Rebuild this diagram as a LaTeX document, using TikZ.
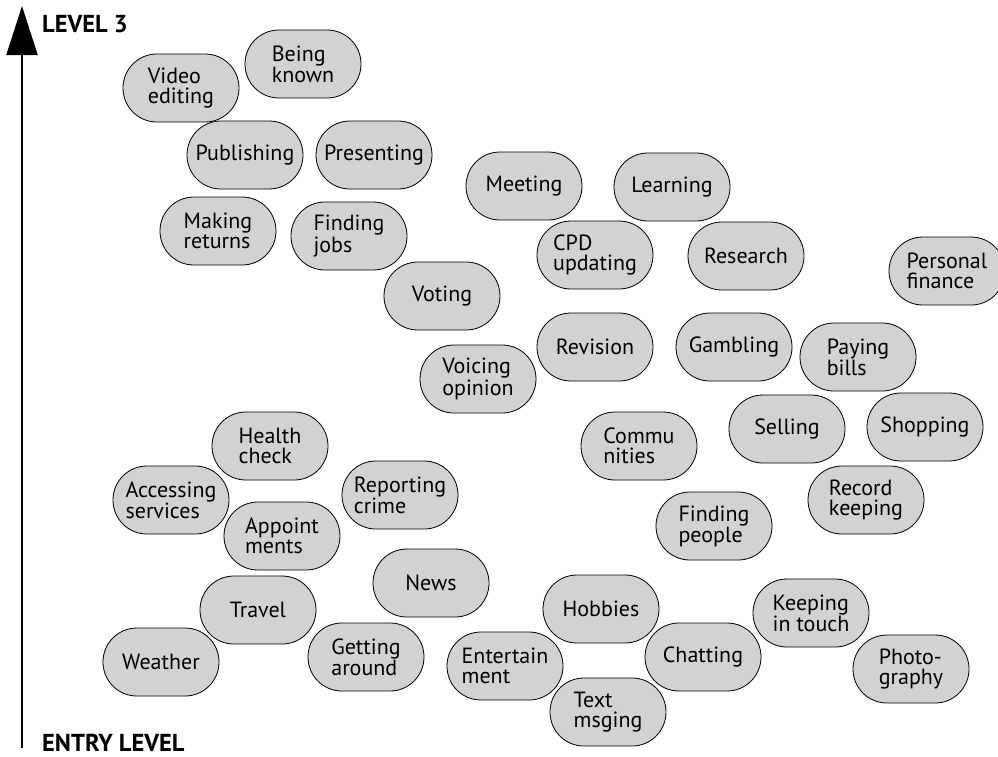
\documentclass[tikz,border=0pt]{standalone}
\usepackage{fontspec}
\setmainfont{PT Sans}
\usetikzlibrary{arrows.meta}
\definecolor{bubblegray}{RGB}{209,210,212}
\begin{document}
\begin{tikzpicture}[x=1pt, y=-1pt,
  bubble/.style={draw, fill=bubblegray, line width=0.8pt, rounded corners=33.9pt,
    minimum width=116pt, minimum height=68pt, inner sep=0pt, align=left,
    font=\fontsize{22}{20}\selectfont},
  levellabel/.style={anchor=base west, inner sep=0pt, font=\fontsize{24.5}{24}\selectfont\bfseries}]
  \useasboundingbox (0,0) rectangle (998,756);
  % axis
  \coordinate (bottom) at (22,748);
  \coordinate (top) at (22,6);
  \draw [line width=2.2pt, -{Triangle[length=49pt,width=31pt]}] (bottom) -- (top);
  \node [levellabel] (level3) at (42,32) {LEVEL 3};
  \node [levellabel] (entry) at (42,751) {ENTRY LEVEL};
  % activities, top to bottom
  \foreach \n/\x/\y/\t in {
      known/303/64/Being\\known, video/181/88/Video\\editing,
      publishing/245/155/Publishing, presenting/374/155/Presenting,
      meeting/524/186/Meeting, learning/672/187/Learning,
      returns/218/231/Making\\returns, jobs/349/236/Finding\\jobs,
      cpd/595/255/CPD\\updating, research/746/256/Research,
      finance/947/271/Personal\\finance, voting/442/296/Voting,
      revision/595/347/Revision, gambling/734/347/Gambling,
      bills/858/357/Paying\\bills, opinion/478/379/Voicing\\opinion,
      selling/787/429/Selling, shopping/925/427/Shopping,
      health/270/446/Health\\check, communities/639/446/Commu\\nities,
      services/171/500/Accessing\\services, crime/400/495/Reporting\\crime,
      records/866/500/Record\\keeping, appointments/282/536/Appoint\\ments,
      people/714/526/Finding\\people, news/431/583/News,
      travel/258/610/Travel, hobbies/601/609/Hobbies,
      touch/811/613/Keeping\\in touch, weather/161/662/Weather,
      around/366/657/Getting\\around, chatting/703/657/Chatting,
      entertain/505/666/Entertain\\ment, photo/911/669/Photo-\\graphy,
      text/608/712/Text\\msging} {
    \node [bubble] (\n) at (\x,\y) {\t};
  };
\end{tikzpicture}
\end{document}
